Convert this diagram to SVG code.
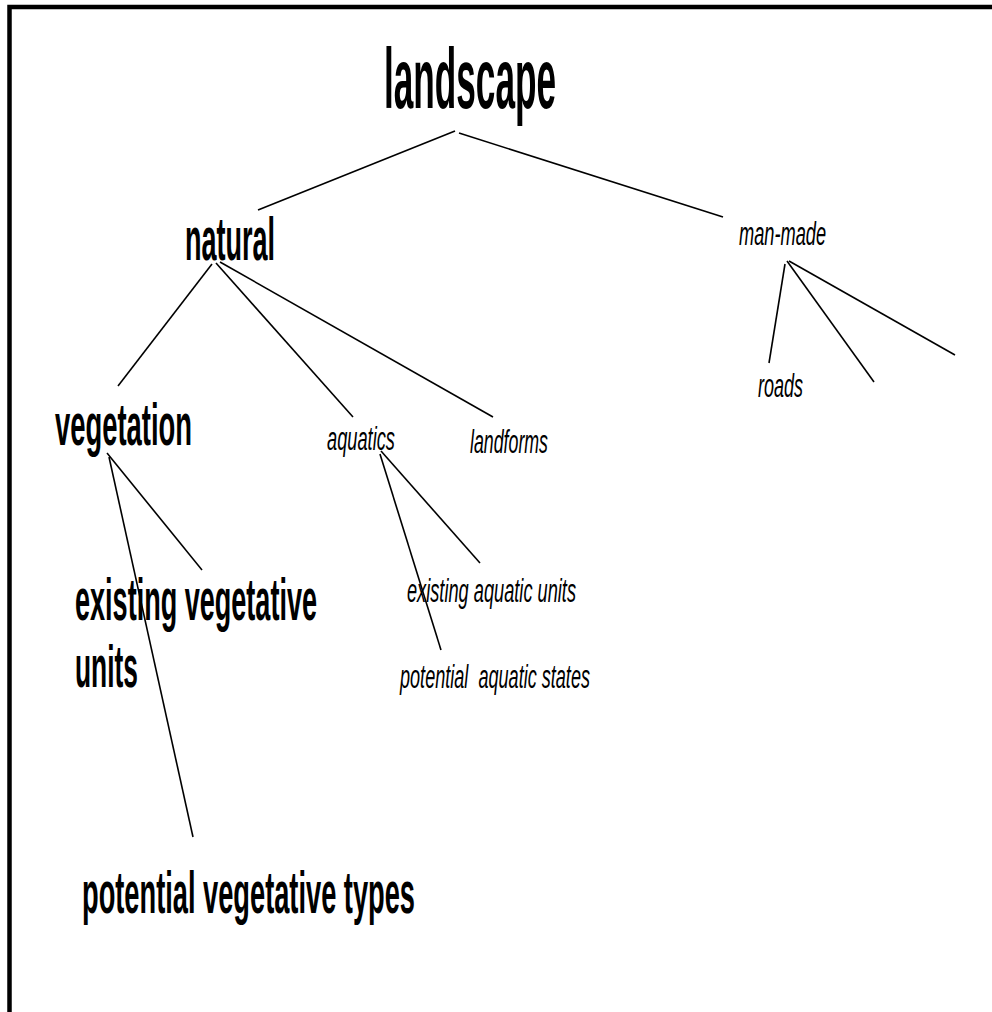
<svg xmlns="http://www.w3.org/2000/svg" width="992" height="1012" viewBox="0 0 992 1012">
<style>
text{font-family:"Liberation Sans",Arial,sans-serif;fill:#000;}
.b{font-weight:bold;}
.i{font-style:italic;font-size:33px;}
.c line{stroke:#000;stroke-width:1.6;fill:none;}
.frame{stroke:#000;stroke-width:4.5;fill:none;}
</style>
<rect width="992" height="1012" fill="#fff"/>
<polyline class="frame" points="9.5,1012 9.5,7 992,7"/>
<g id="connectors" class="c">
<line x1="455" y1="131" x2="258" y2="210"/>
<line x1="459" y1="133" x2="723" y2="217"/>
<line x1="212" y1="264" x2="118" y2="386"/>
<line x1="216" y1="263" x2="353" y2="417"/>
<line x1="220" y1="262" x2="493" y2="417"/>
<line x1="785" y1="264" x2="769" y2="363"/>
<line x1="787" y1="261" x2="874" y2="382"/>
<line x1="789" y1="261" x2="955" y2="355"/>
<line x1="107" y1="453" x2="202" y2="570"/>
<line x1="109" y1="457" x2="193" y2="837"/>
<line x1="381" y1="451" x2="480" y2="563"/>
<line x1="380" y1="454" x2="441" y2="650"/>
</g>
<g id="landscape"><text class="b" x="384" y="108" font-size="86" textLength="172" lengthAdjust="spacingAndGlyphs">landscape</text></g>
<g id="natural"><text class="b" x="185" y="260" font-size="62" textLength="90" lengthAdjust="spacingAndGlyphs">natural</text></g>
<g id="man-made"><text class="i" x="739" y="245" textLength="87" lengthAdjust="spacingAndGlyphs">man-made</text></g>
<g id="roads"><text class="i" x="758" y="397" textLength="45" lengthAdjust="spacingAndGlyphs">roads</text></g>
<g id="vegetation"><text class="b" x="55" y="445" font-size="60" textLength="137" lengthAdjust="spacingAndGlyphs">vegetation</text></g>
<g id="aquatics"><text class="i" x="327" y="450" textLength="68" lengthAdjust="spacingAndGlyphs">aquatics</text></g>
<g id="landforms"><text class="i" x="470" y="453" textLength="78" lengthAdjust="spacingAndGlyphs">landforms</text></g>
<g id="existing-vegetative-units"><text class="b" x="75" y="620" font-size="60" textLength="242" lengthAdjust="spacingAndGlyphs">existing vegetative</text><text class="b" x="75" y="687" font-size="60" textLength="63" lengthAdjust="spacingAndGlyphs">units</text></g>
<g id="existing-aquatic-units"><text class="i" x="407" y="602" textLength="169" lengthAdjust="spacingAndGlyphs">existing aquatic units</text></g>
<g id="potential-aquatic-states"><text class="i" x="400" y="688" textLength="190" lengthAdjust="spacingAndGlyphs" xml:space="preserve">potential  aquatic states</text></g>
<g id="potential-vegetative-types"><text class="b" x="82" y="913" font-size="60" textLength="333" lengthAdjust="spacingAndGlyphs">potential vegetative types</text></g>
</svg>
